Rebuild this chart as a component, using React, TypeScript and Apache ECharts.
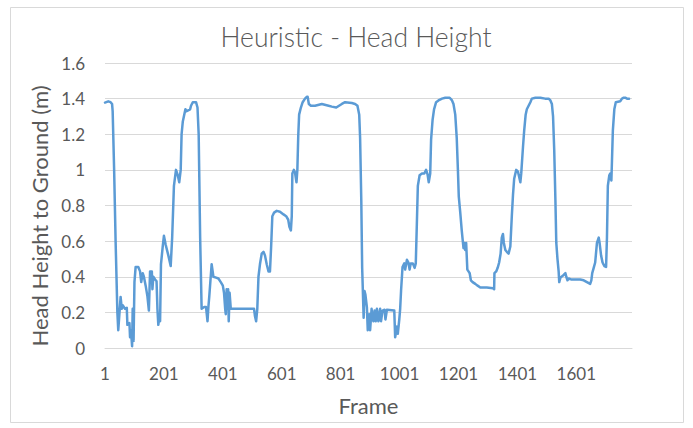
import React, { useEffect, useRef } from "react";
import * as echarts from "echarts";

const chartTitle = "Heuristic - Head Height";
const xAxisTitle = "Frame";
const yAxisTitle = "Head Height to Ground (m)";
const frameCount = 1790;
const frameStep = 200;
const yMin = 0;
const yMax = 1.6;
const yStep = 0.2;

const frames = [
  1, 12, 20, 25, 27, 32, 37, 43, 46, 54, 58, 61, 69, 75, 77, 84, 86, 89, 93, 95,
  98, 101, 105, 114, 120, 124, 129, 133, 139, 145, 150, 154, 160, 162, 165, 171, 176, 179, 182, 186,
  188, 191, 197, 201, 207, 216, 224, 229, 235, 242, 248, 253, 258, 261, 265, 270, 274, 278, 290, 293,
  299, 310, 315, 319, 324, 329, 338, 344, 349, 352, 355, 363, 369, 378, 386, 394, 401, 405, 409, 411,
  414, 417, 419, 421, 424, 428, 460, 507, 510, 514, 518, 522, 527, 533, 539, 544, 550, 556, 561, 565,
  569, 575, 584, 595, 607, 616, 623, 627, 632, 635, 637, 642, 646, 651, 654, 657, 660, 666, 672, 680,
  686, 689, 693, 700, 714, 737, 760, 771, 786, 805, 816, 839, 850, 858, 864, 867, 871, 874, 879, 882,
  885, 890, 893, 898, 901, 906, 909, 912, 916, 920, 924, 929, 935, 938, 943, 950, 953, 958, 983, 986,
  992, 995, 1000, 1003, 1006, 1011, 1017, 1020, 1026, 1031, 1035, 1039, 1046, 1052, 1056, 1060, 1063, 1069, 1077, 1085,
  1091, 1096, 1100, 1105, 1108, 1113, 1118, 1125, 1133, 1145, 1156, 1171, 1179, 1184, 1190, 1195, 1199, 1202, 1207, 1212,
  1218, 1222, 1224, 1227, 1231, 1235, 1239, 1243, 1249, 1258, 1266, 1275, 1297, 1318, 1322, 1323, 1329, 1334, 1339, 1344,
  1348, 1352, 1355, 1360, 1365, 1371, 1377, 1382, 1386, 1390, 1397, 1403, 1407, 1411, 1414, 1420, 1424, 1429, 1433, 1439,
  1445, 1450, 1462, 1479, 1495, 1507, 1513, 1518, 1522, 1526, 1530, 1533, 1537, 1541, 1543, 1547, 1558, 1564, 1567, 1571,
  1575, 1583, 1614, 1626, 1637, 1648, 1652, 1655, 1660, 1665, 1671, 1677, 1680, 1685, 1690, 1696, 1702, 1705, 1708, 1713,
  1716, 1720, 1722, 1725, 1730, 1735, 1750, 1756, 1762, 1767, 1773, 1780,
];

const heights = [
  1.378, 1.385, 1.38, 1.37, 1.33, 1.0, 0.6, 0.2, 0.1, 0.287, 0.22, 0.24, 0.22, 0.225, 0.13, 0.14, 0.06, 0.1, 0.01, 0.22,
  0.04, 0.37, 0.455, 0.455, 0.43, 0.37, 0.42, 0.4, 0.35, 0.29, 0.21, 0.43, 0.43, 0.33, 0.4, 0.385, 0.375, 0.22, 0.13, 0.18,
  0.15, 0.47, 0.57, 0.63, 0.58, 0.52, 0.46, 0.62, 0.91, 1.0, 0.97, 0.93, 1.0, 1.2, 1.27, 1.31, 1.34, 1.33, 1.34, 1.36,
  1.38, 1.38, 1.35, 1.2, 0.62, 0.22, 0.23, 0.23, 0.15, 0.23, 0.29, 0.47, 0.4, 0.395, 0.39, 0.37, 0.35, 0.31, 0.22, 0.19,
  0.33, 0.22, 0.33, 0.15, 0.31, 0.22, 0.22, 0.22, 0.18, 0.15, 0.22, 0.4, 0.47, 0.53, 0.54, 0.52, 0.47, 0.43, 0.43, 0.57,
  0.74, 0.76, 0.77, 0.765, 0.75, 0.74, 0.72, 0.68, 0.66, 0.74, 0.98, 1.0, 0.985, 0.93, 1.0, 1.19, 1.31, 1.35, 1.38, 1.4,
  1.41, 1.41, 1.37, 1.36, 1.36, 1.37, 1.36, 1.355, 1.35, 1.37, 1.38, 1.375, 1.37, 1.36, 1.31, 1.18, 0.83, 0.45, 0.17, 0.32,
  0.3, 0.23, 0.1, 0.19, 0.1, 0.22, 0.17, 0.15, 0.21, 0.15, 0.22, 0.15, 0.22, 0.15, 0.21, 0.215, 0.16, 0.215, 0.21, 0.06,
  0.12, 0.08, 0.16, 0.22, 0.32, 0.455, 0.475, 0.44, 0.495, 0.48, 0.44, 0.475, 0.475, 0.45, 0.475, 0.72, 0.91, 0.97, 0.98, 0.98,
  1.0, 0.975, 0.93, 0.98, 1.17, 1.28, 1.34, 1.38, 1.39, 1.4, 1.405, 1.405, 1.39, 1.37, 1.31, 1.18, 1.0, 0.85, 0.76, 0.66,
  0.56, 0.59, 0.55, 0.59, 0.44, 0.43, 0.42, 0.38, 0.37, 0.36, 0.35, 0.34, 0.34, 0.335, 0.33, 0.42, 0.43, 0.45, 0.48, 0.53,
  0.62, 0.64, 0.59, 0.55, 0.54, 0.53, 0.57, 0.74, 0.86, 0.95, 1.0, 0.99, 0.96, 0.93, 0.98, 1.13, 1.22, 1.31, 1.34, 1.36,
  1.38, 1.4, 1.405, 1.405, 1.4, 1.4, 1.39, 1.37, 1.3, 1.11, 0.83, 0.59, 0.5, 0.43, 0.37, 0.395, 0.41, 0.42, 0.4, 0.38,
  0.39, 0.385, 0.385, 0.38, 0.37, 0.36, 0.38, 0.42, 0.45, 0.48, 0.59, 0.62, 0.59, 0.52, 0.48, 0.46, 0.455, 0.62, 0.91, 0.97,
  0.98, 0.94, 1.05, 1.22, 1.34, 1.38, 1.385, 1.4, 1.405, 1.405, 1.4, 1.4,
];

const FONT = "Lato, 'Noto Sans', sans-serif";
const TEXT = "#595959";
const GRID = "#D9D9D9";

export default function App() {
  const ref = useRef<HTMLDivElement>(null);

  useEffect(() => {
    document.body.style.margin = "0";
    if (!ref.current) return;
    const chart = echarts.init(ref.current, undefined, { renderer: "svg" });
    const seriesData = frames.map((f, i) => [f - 1, heights[i]]);
    chart.setOption({
      animation: false,
      backgroundColor: "#ffffff",
      grid: { left: 105, right: 61, top: 63, bottom: 80, containLabel: false },
      xAxis: {
        type: "value",
        min: 0,
        max: frameCount - 1,
        interval: frameStep,
        name: xAxisTitle,
        nameLocation: "middle",
        nameGap: 46,
        nameTextStyle: { fontFamily: FONT, fontSize: 22, color: TEXT },
        axisLine: { show: true, lineStyle: { color: GRID, width: 1 } },
        axisTick: { show: false },
        splitLine: { show: false },
        axisLabel: {
          fontFamily: FONT,
          fontSize: 17,
          color: TEXT,
          margin: 17,
          showMaxLabel: false,
          formatter: (v: number) => (v % frameStep === 0 ? String(v + 1) : ""),
        },
      },
      yAxis: {
        type: "value",
        min: yMin,
        max: yMax,
        interval: yStep,
        axisLine: { show: false },
        axisTick: { show: false },
        splitLine: { show: true, lineStyle: { color: GRID, width: 1 } },
        axisLabel: {
          fontFamily: FONT,
          fontSize: 17,
          color: TEXT,
          margin: 20,
          formatter: (v: number) => String(Math.round(v * 10) / 10),
        },
      },
      graphic: [
        {
          type: "rect",
          shape: { x: 10.5, y: 7.5, width: 673, height: 415 },
          style: { fill: "none", stroke: GRID, lineWidth: 1 },
          silent: true,
          z: -1,
        },
        {
          type: "text",
          x: 356,
          y: 37,
          style: {
            text: chartTitle,
            fontFamily: FONT,
            fontSize: 26.5,
            fontWeight: 300,
            fill: TEXT,
            textAlign: "center",
            textVerticalAlign: "middle",
          },
          silent: true,
        },
        {
          type: "text",
          x: 39,
          y: 216,
          rotation: Math.PI / 2,
          style: {
            text: yAxisTitle,
            fontFamily: FONT,
            fontSize: 22,
            fill: TEXT,
            textAlign: "center",
            textVerticalAlign: "middle",
          },
          silent: true,
        },
      ],
      series: [
        {
          type: "line",
          data: seriesData,
          showSymbol: false,
          symbol: "none",
          lineStyle: { color: "#5B9BD5", width: 2.5, join: "round", cap: "round" },
          itemStyle: { color: "#5B9BD5" },
        },
      ],
    });
    return () => chart.dispose();
  }, []);

  return <div ref={ref} style={{ width: 693, height: 428 }} />;
}
